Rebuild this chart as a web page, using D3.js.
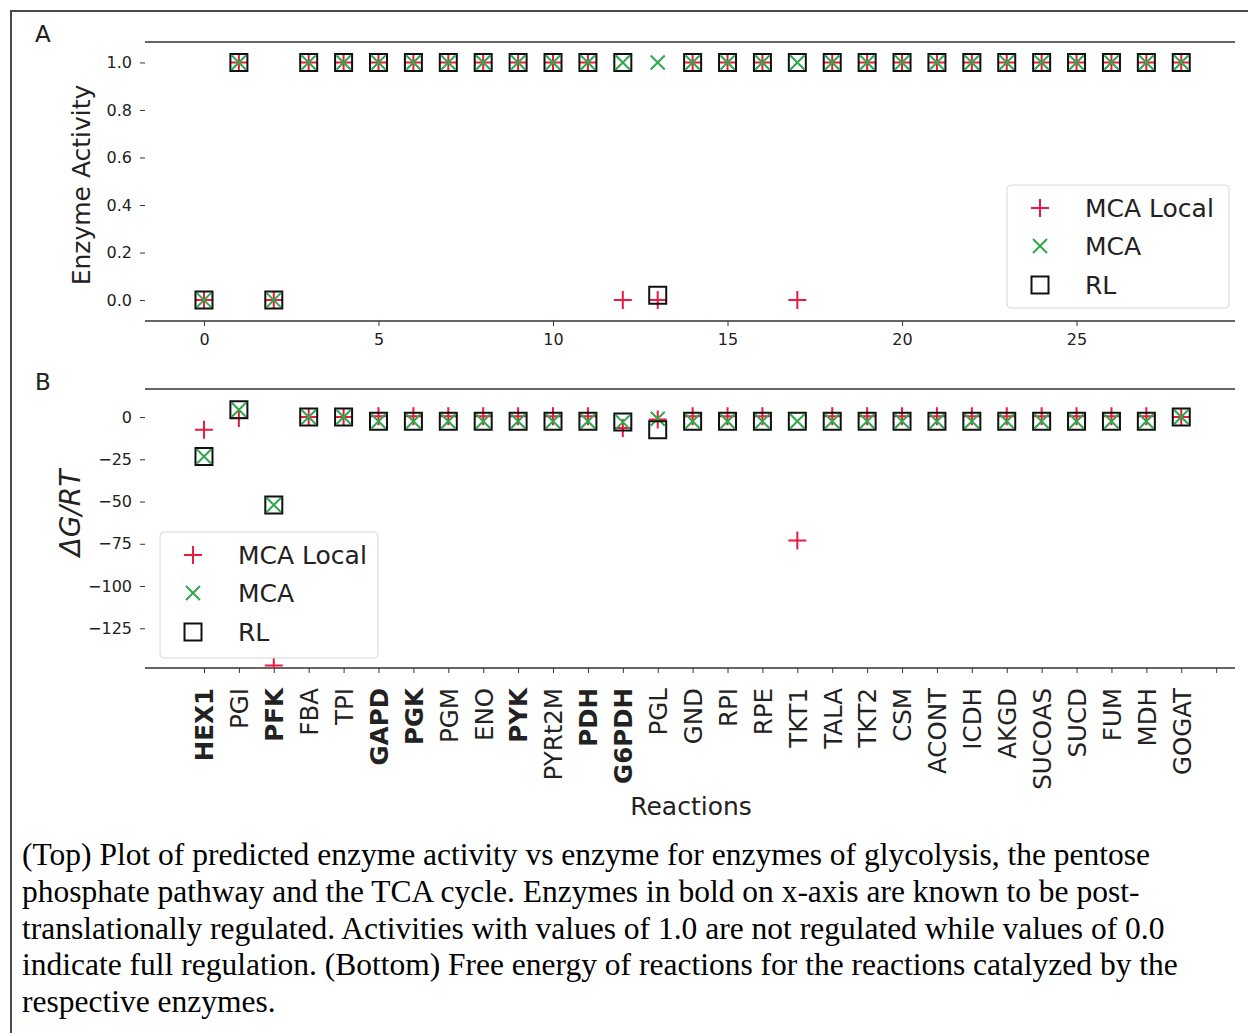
<!DOCTYPE html>
<html>
<head>
<meta charset="utf-8">
<script src="https://cdn.jsdelivr.net/npm/d3@7"></script>
<style>
  body { margin: 0; background: #fff; }
  svg { display: block; }
  .tick text { font-family: "DejaVu Sans", sans-serif; fill: #222; }
  .tick line { stroke: #333; }
</style>
</head>
<body>
<svg id="fig" width="1248" height="1033"></svg>
<script>
// reactions on the x axis, bold = known post-translational regulation
const reactions = ["HEX1","PGI","PFK","FBA","TPI","GAPD","PGK","PGM","ENO","PYK","PYRt2M","PDH","G6PDH","PGL","GND","RPI","RPE","TKT1","TALA","TKT2","CSM","ACONT","ICDH","AKGD","SUCOAS","SUCD","FUM","MDH","GOGAT"];
const boldReactions = ["HEX1","PFK","GAPD","PGK","PYK","PDH","G6PDH"];

// panel A: enzyme activity
const actLocal = [0,1,0,1,1,1,1,1,1,1,1,1,0,0,1,1,1,0,1,1,1,1,1,1,1,1,1,1,1];
const actMCA   = [0,1,0,1,1,1,1,1,1,1,1,1,1,1,1,1,1,1,1,1,1,1,1,1,1,1,1,1,1];
const actRL    = [0,1,0,1,1,1,1,1,1,1,1,1,1,0.02,1,1,1,1,1,1,1,1,1,1,1,1,1,1,1];

// panel B: free energy dG/RT
const dgLocal = [-7.5,-0.5,-147,0,0,0.5,0.5,0.5,0.5,0.5,0.5,0.5,-6.5,-1.5,0.5,0.5,0.5,-73,0.5,0.5,0.5,0.5,0.5,0.5,0.5,0.5,0.5,0.5,0];
const dgMCA   = [-23.3,4.3,-52,0,0,-2.5,-2.5,-2.5,-2.5,-2.5,-2.5,-2.5,-3,-1,-2.5,-2.5,-2.5,-2.5,-2.5,-2.5,-2.5,-2.5,-2.5,-2.5,-2.5,-2.5,-2.5,-2.5,0];
const dgRL    = [-23.3,4.3,-52,0,0,-2.5,-2.5,-2.5,-2.5,-2.5,-2.5,-2.5,-3,-7.5,-2.5,-2.5,-2.5,-2.5,-2.5,-2.5,-2.5,-2.5,-2.5,-2.5,-2.5,-2.5,-2.5,-2.5,0];

const yTicksA = [0, 0.2, 0.4, 0.6, 0.8, 1.0];
const xTicksA = [0, 5, 10, 15, 20, 25];
const yTicksB = [0, -25, -50, -75, -100, -125];
const seriesNames = ["MCA Local", "MCA", "RL"];

const caption = [
  "(Top) Plot of predicted enzyme activity vs enzyme for enzymes of glycolysis, the pentose",
  "phosphate pathway and the TCA cycle. Enzymes in bold on x-axis are known to be post-",
  "translationally regulated. Activities with values of 1.0 are not regulated while values of 0.0",
  "indicate full regulation. (Bottom) Free energy of reactions for the reactions catalyzed by the",
  "respective enzymes."
];

const red = "#ec1a3f", green = "#2ea84c", black = "#111";
const svg = d3.select("#fig");
const font = '"DejaVu Sans", sans-serif';

// outer frame
svg.append("path")
  .attr("d", "M11,1033V11H1248")
  .attr("fill", "none").attr("stroke", "#4a4a4a").attr("stroke-width", 2);

const x = d3.scaleLinear().domain([-1.69, 29.54]).range([145, 1235]);
const yA = d3.scaleLinear().domain([-0.088, 1.086]).range([321, 42]);
const yB = d3.scaleLinear().domain([-148.5, 16.6]).range([668, 389]);

// clip regions for the two axes
const defs = svg.append("defs");
defs.append("clipPath").attr("id", "clipA").append("rect")
  .attr("x", 145).attr("y", 42).attr("width", 1090).attr("height", 279);
defs.append("clipPath").attr("id", "clipB").append("rect")
  .attr("x", 145).attr("y", 389).attr("width", 1090).attr("height", 279);

// marker drawing
function drawMarkers(g, vals, y, kind) {
  const sel = g.append("g").selectAll("path").data(vals).join("path")
    .attr("transform", (d, i) => `translate(${x(i)},${y(d)})`)
    .attr("fill", "none")
    .attr("stroke-width", 2);
  if (kind === 0) sel.attr("d", "M-9,0H9M0,-9V9").attr("stroke", red);
  if (kind === 1) sel.attr("d", "M-7,-7L7,7M-7,7L7,-7").attr("stroke", green);
  if (kind === 2) sel.attr("d", "M-8.5,-8.5H8.5V8.5H-8.5Z").attr("stroke", black);
}

function spines(y) {
  const [b, t] = y.range();
  svg.append("line").attr("x1", 145).attr("x2", 1235).attr("y1", t).attr("y2", t)
    .attr("stroke", "#333").attr("stroke-width", 1.5);
  svg.append("line").attr("x1", 145).attr("x2", 1235).attr("y1", b).attr("y2", b)
    .attr("stroke", "#333").attr("stroke-width", 1.5);
}

function legend(x0, y0, w, h) {
  const g = svg.append("g").attr("transform", `translate(${x0},${y0})`);
  g.append("rect").attr("width", w).attr("height", h).attr("rx", 4)
    .attr("fill", "#fff").attr("fill-opacity", 0.8).attr("stroke", "#d8d8d8");
  const rows = [23, 61, 100];
  const shapes = ["M-9,0H9M0,-9V9", "M-7,-7L7,7M-7,7L7,-7", "M-8.5,-8.5H8.5V8.5H-8.5Z"];
  const cols = [red, green, black];
  seriesNames.forEach((n, i) => {
    g.append("path").attr("d", shapes[i]).attr("transform", `translate(33,${rows[i]})`)
      .attr("fill", "none").attr("stroke", cols[i]).attr("stroke-width", 2);
    g.append("text").attr("x", 78).attr("y", rows[i]).attr("dy", "0.36em")
      .attr("font-family", font).attr("font-size", 25).attr("fill", "#222").text(n);
  });
}

// ---------- panel A ----------
spines(yA);
svg.append("g").attr("transform", "translate(145,0)")
  .call(d3.axisLeft(yA).tickValues(yTicksA).tickFormat(d3.format(".1f")).tickSize(5).tickPadding(8))
  .call(g => g.select(".domain").remove())
  .selectAll("text").attr("font-size", 16);
svg.append("g").attr("transform", "translate(0,321)")
  .call(d3.axisBottom(x).tickValues(xTicksA).tickFormat(d3.format("d")).tickSize(5).tickPadding(8))
  .call(g => g.select(".domain").remove())
  .selectAll("text").attr("font-size", 16);

const gA = svg.append("g").attr("clip-path", "url(#clipA)");
drawMarkers(gA, actLocal, yA, 0);
drawMarkers(gA, actMCA, yA, 1);
drawMarkers(gA, actRL, yA, 2);
legend(1007, 185, 222, 123);

svg.append("text").attr("transform", "translate(90,185) rotate(-90)")
  .attr("text-anchor", "middle").attr("font-family", font).attr("font-size", 25)
  .attr("fill", "#222").text("Enzyme Activity");
svg.append("text").attr("x", 35).attr("y", 42).attr("font-family", font)
  .attr("font-size", 23).attr("fill", "#222").text("A");

// ---------- panel B ----------
spines(yB);
svg.append("g").attr("transform", "translate(145,0)")
  .call(d3.axisLeft(yB).tickValues(yTicksB).tickFormat(d => d3.format("d")(d).replace("-", "\u2212")).tickSize(5).tickPadding(8))
  .call(g => g.select(".domain").remove())
  .selectAll("text").attr("font-size", 16);
const xb = svg.append("g").attr("transform", "translate(0,668)")
  .call(d3.axisBottom(x).tickValues(d3.range(30)).tickFormat(i => reactions[i] || "").tickSize(5))
  .call(g => g.select(".domain").remove());
xb.selectAll("text")
  .attr("font-size", 24.5)
  .attr("font-weight", d => boldReactions.includes(reactions[d]) ? "bold" : "normal")
  .attr("transform", "rotate(-90)")
  .attr("text-anchor", "end")
  .attr("x", -20).attr("y", 0).attr("dy", "0.36em");

const gB = svg.append("g").attr("clip-path", "url(#clipB)");
drawMarkers(gB, dgLocal, yB, 0);
drawMarkers(gB, dgMCA, yB, 1);
drawMarkers(gB, dgRL, yB, 2);
legend(160, 532, 218, 126);

svg.append("text").attr("transform", "translate(80,513) rotate(-90)")
  .attr("text-anchor", "middle").attr("font-family", font).attr("font-size", 28)
  .attr("font-style", "italic").attr("fill", "#222").text("\u0394G/RT");
svg.append("text").attr("x", 691).attr("y", 815).attr("text-anchor", "middle")
  .attr("font-family", font).attr("font-size", 25).attr("fill", "#222").text("Reactions");
svg.append("text").attr("x", 35).attr("y", 390).attr("font-family", font)
  .attr("font-size", 23).attr("fill", "#222").text("B");

// ---------- caption ----------
svg.append("g").selectAll("text").data(caption).join("text")
  .attr("x", 22).attr("y", (d, i) => 865 + i * 36.8)
  .attr("font-family", '"Liberation Serif", "Times New Roman", serif')
  .attr("font-size", 31.5).attr("fill", "#000").text(d => d);
</script>
</body>
</html>
